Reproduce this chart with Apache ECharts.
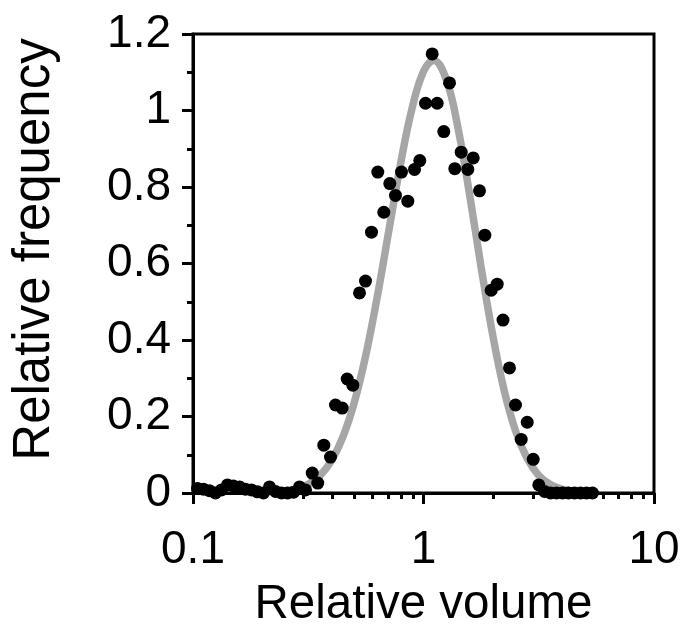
<!DOCTYPE html>
<html>
<head>
<meta charset="utf-8">
<script src="https://cdn.jsdelivr.net/npm/echarts@6/dist/echarts.min.js"></script>
<style>
html,body{margin:0;padding:0;background:#fff;}
#chart{width:684px;height:634px;}
</style>
</head>
<body>
<div id="chart"></div>
<script>
// Measured histogram points (relative volume vs relative frequency)
var volumeX = [0.1046,0.1110,0.1179,0.1252,0.1329,0.1411,0.1498,0.1591,0.1689,0.1794,0.1905,0.2022,0.2147,0.2280,0.2420,0.2570,0.2729,0.2897,0.3076,0.3290,0.3478,0.3694,0.3949,0.4151,0.4439,0.4667,0.4935,0.5277,0.5603,0.5948,0.6334,0.6726,0.7142,0.7560,0.8027,0.8548,0.9141,0.9636,1.0202,1.0907,1.1465,1.2247,1.2968,1.3672,1.4574,1.5566,1.6434,1.7498,1.8451,1.9666,2.0877,2.2128,2.3610,2.5068,2.6544,2.8186,2.9923,3.1637,3.350,3.556,3.776,4.009,4.256,4.519,4.798,5.095,5.410];
var frequencyY = [0.012,0.010,0.006,0.0,0.008,0.021,0.018,0.016,0.010,0.008,0.003,0.0,0.016,0.004,0.0,0.0,0.002,0.016,0.008,0.052,0.026,0.125,0.094,0.230,0.222,0.298,0.282,0.523,0.554,0.682,0.839,0.734,0.809,0.778,0.839,0.763,0.846,0.869,1.019,1.148,1.019,0.945,1.072,0.848,0.891,0.846,0.876,0.790,0.674,0.530,0.546,0.452,0.327,0.230,0.140,0.185,0.088,0.021,0.004,0,0,0,0,0,0,0,0];

// Fitted curve (grey)
var fitX = [0.2512,0.2818,0.3162,0.3548,0.3981,0.4467,0.5012,0.5623,0.6310,0.7079,0.7943,0.8913,1.0,1.108,1.2589,1.4125,1.5849,1.7783,1.9953,2.2387,2.5119,2.8184,3.1623,3.5481,3.9811,4.4668];
var fitY = [0.005,0.011,0.023,0.045,0.084,0.146,0.237,0.361,0.515,0.687,0.859,1.005,1.102,1.131,1.079,0.953,0.780,0.590,0.414,0.268,0.161,0.090,0.046,0.022,0.010,0.004];

var xMajorTicks = [0.1, 1, 10];
var xMinorTicks = [0.2,0.3,0.4,0.5,0.6,0.7,0.8,0.9,2,3,4,5,6,7,8,9];

var xTitle = 'Relative volume';
var yTitle = 'Relative frequency';

var FONT = '"Liberation Sans", Arial, Helvetica, sans-serif';
var FS = 46;

function zip(a, b) { return a.map(function (v, i) { return [v, b[i]]; }); }

var chart = echarts.init(document.getElementById('chart'), null, {renderer: 'canvas'});
chart.setOption({
  animation: false,
  backgroundColor: '#fff',
  grid: {left: 193, right: 30, top: 34, bottom: 141, show: true, borderColor: '#000', borderWidth: 3, backgroundColor: 'transparent'},
  xAxis: [{
    type: 'log', logBase: 10, min: 0.1, max: 10, position: 'bottom',
    name: xTitle, nameLocation: 'middle', nameGap: 88,
    nameTextStyle: {fontFamily: FONT, fontSize: 47.5, color: '#000'},
    axisLine: {show: true, lineStyle: {color: '#000', width: 3}},
    axisTick: {show: true, inside: false, length: 11, lineStyle: {color: '#000', width: 3}, customValues: xMajorTicks},
    axisLabel: {show: true, margin: 34, fontFamily: FONT, fontSize: FS, color: '#000', customValues: xMajorTicks,
      formatter: function (v) { return String(+parseFloat(v).toPrecision(6)); }},
    splitLine: {show: false}, minorTick: {show: false}
  }, {
    type: 'log', logBase: 10, min: 0.1, max: 10, position: 'bottom',
    axisLine: {show: false},
    axisTick: {show: true, inside: false, length: 6, lineStyle: {color: '#000', width: 3}, customValues: xMinorTicks},
    axisLabel: {show: false},
    splitLine: {show: false}
  }],
  yAxis: {
    type: 'value', min: 0, max: 1.2, interval: 0.2,
    name: yTitle, nameLocation: 'middle', nameGap: 133, nameRotate: 90,
    nameTextStyle: {fontFamily: FONT, fontSize: 51, color: '#000', padding: [0, 0, 0, 28]},
    axisLine: {show: true, lineStyle: {color: '#000', width: 3}},
    axisTick: {show: true, inside: false, length: 11, lineStyle: {color: '#000', width: 3}},
    minorTick: {show: true, splitNumber: 2, length: 6, lineStyle: {color: '#000', width: 3}},
    axisLabel: {margin: 22, fontFamily: FONT, fontSize: FS, color: '#000'},
    splitLine: {show: false}, minorSplitLine: {show: false}
  },
  series: [{
    type: 'line', name: 'fit', xAxisIndex: 0, data: zip(fitX, fitY), smooth: 0.4,
    showSymbol: false, symbol: 'none', clip: true,
    lineStyle: {color: '#a6a6a6', width: 7.5}, z: 2
  }, {
    type: 'scatter', name: 'data', xAxisIndex: 0, data: zip(volumeX, frequencyY),
    symbol: 'circle', symbolSize: 13, itemStyle: {color: '#000', opacity: 1}, z: 3
  }]
});
</script>
</body>
</html>
